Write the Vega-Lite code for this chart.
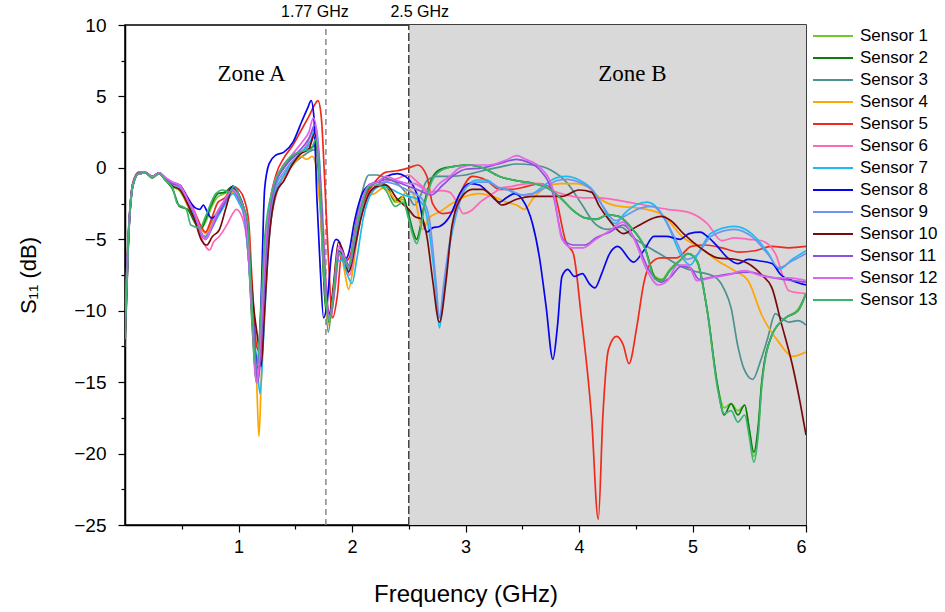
{
"$schema": "https://vega.github.io/schema/vega-lite/v6.json",
"width": 681, "height": 500,
"autosize": {"type": "none"},
"padding": {"left": 125, "top": 25, "right": 139, "bottom": 87},
"background": "white",
"config": {"view": {"stroke": "black", "strokeWidth": 1.5}},
"encoding": {
  "x": {"field": "f", "type": "quantitative", "scale": {"domain": [0, 6], "nice": false},
   "axis": {"values": [0.5, 1, 1.5, 2, 2.5, 3, 3.5, 4, 4.5, 5, 5.5, 6], "labelExpr": "datum.value % 1 == 0 ? format(datum.value, 'd') : ''",
    "tickSize": {"condition": {"test": "datum.value % 1 == 0", "value": 7}, "value": 4},
    "grid": false, "domainColor": "black", "domainWidth": 1.5, "tickColor": "black", "tickWidth": 1.2,
    "labelFont": "Liberation Sans", "labelFontSize": 18, "labelColor": "black", "labelPadding": 6,
    "title": "Frequency (GHz)", "titleFont": "Liberation Sans", "titleFontSize": 24, "titleFontWeight": "normal", "titleColor": "black", "titlePadding": 26}},
  "y": {"field": "v", "type": "quantitative", "scale": {"domain": [-25, 10], "nice": false},
   "axis": {"values": [-25, -22.5, -20, -17.5, -15, -12.5, -10, -7.5, -5, -2.5, 0, 2.5, 5, 7.5, 10], "labelExpr": "datum.value % 5 == 0 ? format(datum.value, 'd') : ''",
    "tickSize": {"condition": {"test": "datum.value % 5 == 0", "value": 7}, "value": 4},
    "grid": false, "domainColor": "black", "domainWidth": 1.5, "tickColor": "black", "tickWidth": 1.2,
    "labelFont": "Liberation Sans", "labelFontSize": 19, "labelColor": "black", "labelPadding": 12,
    "title": "S₁₁ (dB)", "titleFont": "Liberation Sans", "titleFontSize": 22, "titleFontWeight": "normal", "titleColor": "black", "titlePadding": 33}}
},
"layer": [
{"data": {"values": [{"f": 2.5, "b": 6, "v": -25, "w": 10}]}, "mark": {"type": "rect", "color": "#D9D9D9"},
 "encoding": {"x2": {"field": "b"}, "y2": {"field": "w"}}},
{"data": {"values": [{"f": 1.77, "v": -25, "w": 10}]}, "mark": {"type": "rule", "color": "#888888", "strokeDash": [6, 4], "strokeWidth": 1.5},
 "encoding": {"y2": {"field": "w"}}},
{"data": {"values": [{"f": 2.5, "v": -25, "w": 10}]}, "mark": {"type": "rule", "color": "#444444", "strokeDash": [8, 3], "strokeWidth": 1.5},
 "encoding": {"y2": {"field": "w"}}},
{"data": {"values": [
{"s":"Sensor 1","f":0,"v":-11},{"s":"Sensor 1","f":0.03,"v":-5},{"s":"Sensor 1","f":0.07,"v":-1.2},{"s":"Sensor 1","f":0.12,"v":-0.4},{"s":"Sensor 1","f":0.18,"v":-0.35},{"s":"Sensor 1","f":0.24,"v":-0.7},{"s":"Sensor 1","f":0.3,"v":-0.4},{"s":"Sensor 1","f":0.36,"v":-0.9},{"s":"Sensor 1","f":0.42,"v":-1.3},{"s":"Sensor 1","f":0.48,"v":-1.6},{"s":"Sensor 1","f":0.55,"v":-2.6},{"s":"Sensor 1","f":0.62,"v":-3.8},{"s":"Sensor 1","f":0.67,"v":-4.2},{"s":"Sensor 1","f":0.71,"v":-3.8},{"s":"Sensor 1","f":0.76,"v":-2.8},{"s":"Sensor 1","f":0.82,"v":-2},{"s":"Sensor 1","f":0.88,"v":-1.8},{"s":"Sensor 1","f":0.95,"v":-1.4},{"s":"Sensor 1","f":1,"v":-2},{"s":"Sensor 1","f":1.05,"v":-3},{"s":"Sensor 1","f":1.09,"v":-6},{"s":"Sensor 1","f":1.13,"v":-11},{"s":"Sensor 1","f":1.16,"v":-14.5},{"s":"Sensor 1","f":1.2,"v":-10},{"s":"Sensor 1","f":1.25,"v":-4},{"s":"Sensor 1","f":1.32,"v":-1},{"s":"Sensor 1","f":1.4,"v":0},{"s":"Sensor 1","f":1.5,"v":0.9},{"s":"Sensor 1","f":1.58,"v":1.2},{"s":"Sensor 1","f":1.64,"v":1.4},{"s":"Sensor 1","f":1.68,"v":1.5},{"s":"Sensor 1","f":1.72,"v":-2},{"s":"Sensor 1","f":1.76,"v":-9},{"s":"Sensor 1","f":1.79,"v":-10.8},{"s":"Sensor 1","f":1.83,"v":-9},{"s":"Sensor 1","f":1.88,"v":-6},{"s":"Sensor 1","f":1.92,"v":-6.2},{"s":"Sensor 1","f":1.97,"v":-7.3},{"s":"Sensor 1","f":2.02,"v":-5.5},{"s":"Sensor 1","f":2.08,"v":-3},{"s":"Sensor 1","f":2.15,"v":-1.5},{"s":"Sensor 1","f":2.22,"v":-1},{"s":"Sensor 1","f":2.3,"v":-1.2},{"s":"Sensor 1","f":2.38,"v":-2.4},{"s":"Sensor 1","f":2.45,"v":-2.2},{"s":"Sensor 1","f":2.5,"v":-3.5},{"s":"Sensor 1","f":2.54,"v":-4.6},{"s":"Sensor 1","f":2.57,"v":-5},{"s":"Sensor 1","f":2.6,"v":-4.3},{"s":"Sensor 1","f":2.64,"v":-2.5},{"s":"Sensor 1","f":2.7,"v":-0.9},{"s":"Sensor 1","f":2.78,"v":-0.2},{"s":"Sensor 1","f":2.9,"v":0.1},{"s":"Sensor 1","f":3.03,"v":0.2},{"s":"Sensor 1","f":3.15,"v":0},{"s":"Sensor 1","f":3.3,"v":-0.6},{"s":"Sensor 1","f":3.45,"v":-0.9},{"s":"Sensor 1","f":3.6,"v":-1.1},{"s":"Sensor 1","f":3.72,"v":-1.4},{"s":"Sensor 1","f":3.85,"v":-2.2},{"s":"Sensor 1","f":3.95,"v":-3},{"s":"Sensor 1","f":4.05,"v":-3.5},{"s":"Sensor 1","f":4.15,"v":-3.6},{"s":"Sensor 1","f":4.25,"v":-3.3},{"s":"Sensor 1","f":4.35,"v":-3.4},{"s":"Sensor 1","f":4.45,"v":-4.1},{"s":"Sensor 1","f":4.58,"v":-5.6},{"s":"Sensor 1","f":4.67,"v":-7.6},{"s":"Sensor 1","f":4.73,"v":-7.8},{"s":"Sensor 1","f":4.8,"v":-7.1},{"s":"Sensor 1","f":4.9,"v":-6.4},{"s":"Sensor 1","f":4.96,"v":-6},{"s":"Sensor 1","f":5.04,"v":-6.6},{"s":"Sensor 1","f":5.13,"v":-10},{"s":"Sensor 1","f":5.22,"v":-15.2},{"s":"Sensor 1","f":5.28,"v":-16.8},{"s":"Sensor 1","f":5.34,"v":-16.5},{"s":"Sensor 1","f":5.4,"v":-17},{"s":"Sensor 1","f":5.46,"v":-16.6},{"s":"Sensor 1","f":5.5,"v":-18.3},{"s":"Sensor 1","f":5.54,"v":-20.2},{"s":"Sensor 1","f":5.58,"v":-18.3},{"s":"Sensor 1","f":5.61,"v":-15.2},{"s":"Sensor 1","f":5.7,"v":-11.7},{"s":"Sensor 1","f":5.82,"v":-10.5},{"s":"Sensor 1","f":5.93,"v":-9.9},{"s":"Sensor 1","f":6,"v":-8.8},

{"s":"Sensor 2","f":0,"v":-10},{"s":"Sensor 2","f":0.03,"v":-4.5},{"s":"Sensor 2","f":0.07,"v":-1.1},{"s":"Sensor 2","f":0.12,"v":-0.4},{"s":"Sensor 2","f":0.18,"v":-0.35},{"s":"Sensor 2","f":0.24,"v":-0.7},{"s":"Sensor 2","f":0.3,"v":-0.4},{"s":"Sensor 2","f":0.36,"v":-0.9},{"s":"Sensor 2","f":0.42,"v":-1.5},{"s":"Sensor 2","f":0.48,"v":-2.7},{"s":"Sensor 2","f":0.55,"v":-2.9},{"s":"Sensor 2","f":0.62,"v":-3.9},{"s":"Sensor 2","f":0.67,"v":-4.3},{"s":"Sensor 2","f":0.71,"v":-3.6},{"s":"Sensor 2","f":0.76,"v":-2.6},{"s":"Sensor 2","f":0.82,"v":-1.8},{"s":"Sensor 2","f":0.88,"v":-1.7},{"s":"Sensor 2","f":0.95,"v":-1.3},{"s":"Sensor 2","f":1,"v":-2},{"s":"Sensor 2","f":1.05,"v":-3.2},{"s":"Sensor 2","f":1.09,"v":-6.5},{"s":"Sensor 2","f":1.12,"v":-11},{"s":"Sensor 2","f":1.16,"v":-15},{"s":"Sensor 2","f":1.2,"v":-11},{"s":"Sensor 2","f":1.25,"v":-4.5},{"s":"Sensor 2","f":1.32,"v":-1.2},{"s":"Sensor 2","f":1.4,"v":0},{"s":"Sensor 2","f":1.5,"v":0.9},{"s":"Sensor 2","f":1.58,"v":1.2},{"s":"Sensor 2","f":1.64,"v":1.4},{"s":"Sensor 2","f":1.68,"v":1.6},{"s":"Sensor 2","f":1.72,"v":-2.5},{"s":"Sensor 2","f":1.76,"v":-9},{"s":"Sensor 2","f":1.79,"v":-10.8},{"s":"Sensor 2","f":1.83,"v":-9},{"s":"Sensor 2","f":1.88,"v":-5.8},{"s":"Sensor 2","f":1.92,"v":-6.2},{"s":"Sensor 2","f":1.97,"v":-7},{"s":"Sensor 2","f":2.02,"v":-5.2},{"s":"Sensor 2","f":2.08,"v":-3},{"s":"Sensor 2","f":2.15,"v":-1.4},{"s":"Sensor 2","f":2.22,"v":-1},{"s":"Sensor 2","f":2.3,"v":-1.2},{"s":"Sensor 2","f":2.38,"v":-2.3},{"s":"Sensor 2","f":2.45,"v":-2},{"s":"Sensor 2","f":2.5,"v":-3.3},{"s":"Sensor 2","f":2.54,"v":-4.5},{"s":"Sensor 2","f":2.57,"v":-5},{"s":"Sensor 2","f":2.6,"v":-4.2},{"s":"Sensor 2","f":2.64,"v":-2.4},{"s":"Sensor 2","f":2.7,"v":-0.8},{"s":"Sensor 2","f":2.78,"v":-0.1},{"s":"Sensor 2","f":2.9,"v":0.1},{"s":"Sensor 2","f":3.03,"v":0.2},{"s":"Sensor 2","f":3.15,"v":0},{"s":"Sensor 2","f":3.3,"v":-0.6},{"s":"Sensor 2","f":3.45,"v":-0.9},{"s":"Sensor 2","f":3.6,"v":-1.1},{"s":"Sensor 2","f":3.72,"v":-1.4},{"s":"Sensor 2","f":3.85,"v":-2.2},{"s":"Sensor 2","f":3.95,"v":-3},{"s":"Sensor 2","f":4.05,"v":-3.5},{"s":"Sensor 2","f":4.15,"v":-3.6},{"s":"Sensor 2","f":4.25,"v":-3.3},{"s":"Sensor 2","f":4.35,"v":-3.4},{"s":"Sensor 2","f":4.45,"v":-4.1},{"s":"Sensor 2","f":4.58,"v":-5.6},{"s":"Sensor 2","f":4.67,"v":-7.7},{"s":"Sensor 2","f":4.73,"v":-7.9},{"s":"Sensor 2","f":4.8,"v":-7.2},{"s":"Sensor 2","f":4.9,"v":-6.4},{"s":"Sensor 2","f":4.96,"v":-6},{"s":"Sensor 2","f":5.04,"v":-6.5},{"s":"Sensor 2","f":5.13,"v":-10},{"s":"Sensor 2","f":5.22,"v":-15.2},{"s":"Sensor 2","f":5.28,"v":-17.3},{"s":"Sensor 2","f":5.34,"v":-16.5},{"s":"Sensor 2","f":5.4,"v":-17.3},{"s":"Sensor 2","f":5.46,"v":-16.6},{"s":"Sensor 2","f":5.5,"v":-18.3},{"s":"Sensor 2","f":5.54,"v":-19.9},{"s":"Sensor 2","f":5.58,"v":-18},{"s":"Sensor 2","f":5.61,"v":-15},{"s":"Sensor 2","f":5.7,"v":-11.7},{"s":"Sensor 2","f":5.82,"v":-10.5},{"s":"Sensor 2","f":5.93,"v":-10},{"s":"Sensor 2","f":6,"v":-8.8},

{"s":"Sensor 3","f":0,"v":-11.5},{"s":"Sensor 3","f":0.03,"v":-5},{"s":"Sensor 3","f":0.07,"v":-1.2},{"s":"Sensor 3","f":0.12,"v":-0.4},{"s":"Sensor 3","f":0.18,"v":-0.35},{"s":"Sensor 3","f":0.24,"v":-0.65},{"s":"Sensor 3","f":0.3,"v":-0.4},{"s":"Sensor 3","f":0.36,"v":-0.9},{"s":"Sensor 3","f":0.42,"v":-1.2},{"s":"Sensor 3","f":0.48,"v":-1.4},{"s":"Sensor 3","f":0.55,"v":-2.4},{"s":"Sensor 3","f":0.62,"v":-3.8},{"s":"Sensor 3","f":0.67,"v":-4.6},{"s":"Sensor 3","f":0.71,"v":-4.8},{"s":"Sensor 3","f":0.76,"v":-3.8},{"s":"Sensor 3","f":0.82,"v":-3},{"s":"Sensor 3","f":0.88,"v":-2.4},{"s":"Sensor 3","f":0.95,"v":-1.6},{"s":"Sensor 3","f":1,"v":-2.2},{"s":"Sensor 3","f":1.05,"v":-3.2},{"s":"Sensor 3","f":1.09,"v":-6.5},{"s":"Sensor 3","f":1.13,"v":-11.5},{"s":"Sensor 3","f":1.16,"v":-14},{"s":"Sensor 3","f":1.2,"v":-11},{"s":"Sensor 3","f":1.25,"v":-5},{"s":"Sensor 3","f":1.32,"v":-1.8},{"s":"Sensor 3","f":1.4,"v":-0.6},{"s":"Sensor 3","f":1.5,"v":0.4},{"s":"Sensor 3","f":1.58,"v":0.9},{"s":"Sensor 3","f":1.64,"v":1.2},{"s":"Sensor 3","f":1.68,"v":1.3},{"s":"Sensor 3","f":1.72,"v":-1.5},{"s":"Sensor 3","f":1.76,"v":-8},{"s":"Sensor 3","f":1.79,"v":-11.5},{"s":"Sensor 3","f":1.83,"v":-9},{"s":"Sensor 3","f":1.88,"v":-6},{"s":"Sensor 3","f":1.92,"v":-6.5},{"s":"Sensor 3","f":1.97,"v":-6.8},{"s":"Sensor 3","f":2.02,"v":-4.5},{"s":"Sensor 3","f":2.08,"v":-2},{"s":"Sensor 3","f":2.15,"v":-0.5},{"s":"Sensor 3","f":2.22,"v":-0.5},{"s":"Sensor 3","f":2.3,"v":-0.7},{"s":"Sensor 3","f":2.4,"v":-1.1},{"s":"Sensor 3","f":2.5,"v":-2},{"s":"Sensor 3","f":2.55,"v":-2.6},{"s":"Sensor 3","f":2.6,"v":-2},{"s":"Sensor 3","f":2.66,"v":-0.9},{"s":"Sensor 3","f":2.75,"v":-0.6},{"s":"Sensor 3","f":2.85,"v":-0.6},{"s":"Sensor 3","f":3,"v":-0.5},{"s":"Sensor 3","f":3.15,"v":-0.2},{"s":"Sensor 3","f":3.3,"v":0.05},{"s":"Sensor 3","f":3.45,"v":0.27},{"s":"Sensor 3","f":3.6,"v":0.2},{"s":"Sensor 3","f":3.75,"v":-0.15},{"s":"Sensor 3","f":3.9,"v":-1.1},{"s":"Sensor 3","f":4.02,"v":-2.5},{"s":"Sensor 3","f":4.14,"v":-3.9},{"s":"Sensor 3","f":4.25,"v":-4.3},{"s":"Sensor 3","f":4.37,"v":-4.15},{"s":"Sensor 3","f":4.48,"v":-4.9},{"s":"Sensor 3","f":4.6,"v":-5.5},{"s":"Sensor 3","f":4.75,"v":-6.2},{"s":"Sensor 3","f":4.9,"v":-6.9},{"s":"Sensor 3","f":5,"v":-7.2},{"s":"Sensor 3","f":5.19,"v":-7.6},{"s":"Sensor 3","f":5.28,"v":-8.5},{"s":"Sensor 3","f":5.34,"v":-9.8},{"s":"Sensor 3","f":5.4,"v":-12.5},{"s":"Sensor 3","f":5.45,"v":-14},{"s":"Sensor 3","f":5.53,"v":-14.8},{"s":"Sensor 3","f":5.6,"v":-13.5},{"s":"Sensor 3","f":5.66,"v":-12},{"s":"Sensor 3","f":5.73,"v":-10.2},{"s":"Sensor 3","f":5.78,"v":-10.5},{"s":"Sensor 3","f":5.85,"v":-10.8},{"s":"Sensor 3","f":5.93,"v":-10.7},{"s":"Sensor 3","f":6,"v":-11},

{"s":"Sensor 4","f":0,"v":-12},{"s":"Sensor 4","f":0.03,"v":-5},{"s":"Sensor 4","f":0.07,"v":-1.2},{"s":"Sensor 4","f":0.12,"v":-0.4},{"s":"Sensor 4","f":0.18,"v":-0.35},{"s":"Sensor 4","f":0.24,"v":-0.65},{"s":"Sensor 4","f":0.3,"v":-0.35},{"s":"Sensor 4","f":0.36,"v":-0.8},{"s":"Sensor 4","f":0.42,"v":-1.3},{"s":"Sensor 4","f":0.48,"v":-1.4},{"s":"Sensor 4","f":0.55,"v":-2.6},{"s":"Sensor 4","f":0.62,"v":-3.5},{"s":"Sensor 4","f":0.67,"v":-4.3},{"s":"Sensor 4","f":0.71,"v":-4.6},{"s":"Sensor 4","f":0.76,"v":-4},{"s":"Sensor 4","f":0.82,"v":-3},{"s":"Sensor 4","f":0.88,"v":-2.4},{"s":"Sensor 4","f":0.95,"v":-1.7},{"s":"Sensor 4","f":1,"v":-2.3},{"s":"Sensor 4","f":1.05,"v":-3.3},{"s":"Sensor 4","f":1.09,"v":-6.5},{"s":"Sensor 4","f":1.13,"v":-11},{"s":"Sensor 4","f":1.16,"v":-15},{"s":"Sensor 4","f":1.18,"v":-18.8},{"s":"Sensor 4","f":1.2,"v":-15},{"s":"Sensor 4","f":1.23,"v":-9},{"s":"Sensor 4","f":1.27,"v":-4.5},{"s":"Sensor 4","f":1.33,"v":-1.8},{"s":"Sensor 4","f":1.4,"v":-0.6},{"s":"Sensor 4","f":1.5,"v":0.4},{"s":"Sensor 4","f":1.55,"v":0.8},{"s":"Sensor 4","f":1.6,"v":0.6},{"s":"Sensor 4","f":1.65,"v":0.8},{"s":"Sensor 4","f":1.68,"v":0.3},{"s":"Sensor 4","f":1.72,"v":-3},{"s":"Sensor 4","f":1.76,"v":-8},{"s":"Sensor 4","f":1.79,"v":-11},{"s":"Sensor 4","f":1.82,"v":-10},{"s":"Sensor 4","f":1.86,"v":-6.5},{"s":"Sensor 4","f":1.9,"v":-6},{"s":"Sensor 4","f":1.94,"v":-7.5},{"s":"Sensor 4","f":1.97,"v":-8.5},{"s":"Sensor 4","f":2.01,"v":-7},{"s":"Sensor 4","f":2.06,"v":-4},{"s":"Sensor 4","f":2.12,"v":-2},{"s":"Sensor 4","f":2.2,"v":-1.8},{"s":"Sensor 4","f":2.28,"v":-1.4},{"s":"Sensor 4","f":2.34,"v":-1.8},{"s":"Sensor 4","f":2.4,"v":-2.4},{"s":"Sensor 4","f":2.5,"v":-1.5},{"s":"Sensor 4","f":2.55,"v":-2},{"s":"Sensor 4","f":2.62,"v":-4.3},{"s":"Sensor 4","f":2.68,"v":-3.5},{"s":"Sensor 4","f":2.77,"v":-3.1},{"s":"Sensor 4","f":2.88,"v":-2.5},{"s":"Sensor 4","f":3,"v":-2},{"s":"Sensor 4","f":3.12,"v":-1.8},{"s":"Sensor 4","f":3.24,"v":-2},{"s":"Sensor 4","f":3.36,"v":-2.4},{"s":"Sensor 4","f":3.45,"v":-2.6},{"s":"Sensor 4","f":3.52,"v":-2.9},{"s":"Sensor 4","f":3.6,"v":-2.1},{"s":"Sensor 4","f":3.72,"v":-1.3},{"s":"Sensor 4","f":3.83,"v":-1.1},{"s":"Sensor 4","f":3.97,"v":-1.1},{"s":"Sensor 4","f":4.09,"v":-1.4},{"s":"Sensor 4","f":4.2,"v":-2.25},{"s":"Sensor 4","f":4.36,"v":-2.7},{"s":"Sensor 4","f":4.51,"v":-2.8},{"s":"Sensor 4","f":4.72,"v":-3.2},{"s":"Sensor 4","f":4.92,"v":-4.9},{"s":"Sensor 4","f":5.07,"v":-5.6},{"s":"Sensor 4","f":5.22,"v":-6.5},{"s":"Sensor 4","f":5.37,"v":-7.2},{"s":"Sensor 4","f":5.49,"v":-7.9},{"s":"Sensor 4","f":5.61,"v":-10.3},{"s":"Sensor 4","f":5.76,"v":-12.2},{"s":"Sensor 4","f":5.88,"v":-13.2},{"s":"Sensor 4","f":6,"v":-12.9},

{"s":"Sensor 5","f":0,"v":-11},{"s":"Sensor 5","f":0.03,"v":-4.8},{"s":"Sensor 5","f":0.07,"v":-1},{"s":"Sensor 5","f":0.12,"v":-0.3},{"s":"Sensor 5","f":0.18,"v":-0.3},{"s":"Sensor 5","f":0.24,"v":-0.6},{"s":"Sensor 5","f":0.3,"v":-0.35},{"s":"Sensor 5","f":0.36,"v":-0.8},{"s":"Sensor 5","f":0.42,"v":-1.1},{"s":"Sensor 5","f":0.48,"v":-1.2},{"s":"Sensor 5","f":0.55,"v":-2.2},{"s":"Sensor 5","f":0.62,"v":-3.2},{"s":"Sensor 5","f":0.67,"v":-4.1},{"s":"Sensor 5","f":0.71,"v":-4.5},{"s":"Sensor 5","f":0.76,"v":-3.6},{"s":"Sensor 5","f":0.82,"v":-2.4},{"s":"Sensor 5","f":0.88,"v":-2.1},{"s":"Sensor 5","f":0.95,"v":-1.3},{"s":"Sensor 5","f":1,"v":-1.5},{"s":"Sensor 5","f":1.05,"v":-2.2},{"s":"Sensor 5","f":1.09,"v":-3.8},{"s":"Sensor 5","f":1.12,"v":-8},{"s":"Sensor 5","f":1.16,"v":-12.5},{"s":"Sensor 5","f":1.2,"v":-13},{"s":"Sensor 5","f":1.23,"v":-9},{"s":"Sensor 5","f":1.27,"v":-3},{"s":"Sensor 5","f":1.33,"v":-0.5},{"s":"Sensor 5","f":1.4,"v":0.7},{"s":"Sensor 5","f":1.48,"v":1.6},{"s":"Sensor 5","f":1.55,"v":2.6},{"s":"Sensor 5","f":1.62,"v":3.6},{"s":"Sensor 5","f":1.67,"v":4.4},{"s":"Sensor 5","f":1.7,"v":4.7},{"s":"Sensor 5","f":1.73,"v":3.5},{"s":"Sensor 5","f":1.76,"v":-1},{"s":"Sensor 5","f":1.79,"v":-6},{"s":"Sensor 5","f":1.83,"v":-10.5},{"s":"Sensor 5","f":1.87,"v":-9},{"s":"Sensor 5","f":1.91,"v":-6},{"s":"Sensor 5","f":1.95,"v":-6.5},{"s":"Sensor 5","f":1.99,"v":-6},{"s":"Sensor 5","f":2.05,"v":-3.5},{"s":"Sensor 5","f":2.12,"v":-2},{"s":"Sensor 5","f":2.2,"v":-1},{"s":"Sensor 5","f":2.3,"v":-0.3},{"s":"Sensor 5","f":2.4,"v":-0.2},{"s":"Sensor 5","f":2.5,"v":0},{"s":"Sensor 5","f":2.58,"v":0.2},{"s":"Sensor 5","f":2.66,"v":-0.6},{"s":"Sensor 5","f":2.71,"v":-2.5},{"s":"Sensor 5","f":2.8,"v":-3.2},{"s":"Sensor 5","f":2.88,"v":-3.1},{"s":"Sensor 5","f":2.95,"v":-1.8},{"s":"Sensor 5","f":3.06,"v":-0.6},{"s":"Sensor 5","f":3.18,"v":-0.85},{"s":"Sensor 5","f":3.3,"v":-1.5},{"s":"Sensor 5","f":3.41,"v":-1.5},{"s":"Sensor 5","f":3.54,"v":-1.3},{"s":"Sensor 5","f":3.65,"v":-1.1},{"s":"Sensor 5","f":3.77,"v":-1.55},{"s":"Sensor 5","f":3.89,"v":-5.3},{"s":"Sensor 5","f":3.95,"v":-6},{"s":"Sensor 5","f":4.02,"v":-10.4},{"s":"Sensor 5","f":4.11,"v":-17.4},{"s":"Sensor 5","f":4.17,"v":-24.6},{"s":"Sensor 5","f":4.21,"v":-17.4},{"s":"Sensor 5","f":4.26,"v":-12.7},{"s":"Sensor 5","f":4.33,"v":-11.8},{"s":"Sensor 5","f":4.39,"v":-12.4},{"s":"Sensor 5","f":4.44,"v":-13.7},{"s":"Sensor 5","f":4.51,"v":-11.1},{"s":"Sensor 5","f":4.57,"v":-8.1},{"s":"Sensor 5","f":4.63,"v":-6.7},{"s":"Sensor 5","f":4.72,"v":-6.3},{"s":"Sensor 5","f":4.86,"v":-6.3},{"s":"Sensor 5","f":4.99,"v":-5.5},{"s":"Sensor 5","f":5.11,"v":-5.4},{"s":"Sensor 5","f":5.26,"v":-5.6},{"s":"Sensor 5","f":5.41,"v":-5.9},{"s":"Sensor 5","f":5.55,"v":-5.8},{"s":"Sensor 5","f":5.7,"v":-5.5},{"s":"Sensor 5","f":5.85,"v":-5.6},{"s":"Sensor 5","f":6,"v":-5.5},

{"s":"Sensor 6","f":0,"v":-10.5},{"s":"Sensor 6","f":0.03,"v":-4.6},{"s":"Sensor 6","f":0.07,"v":-1.1},{"s":"Sensor 6","f":0.12,"v":-0.4},{"s":"Sensor 6","f":0.18,"v":-0.35},{"s":"Sensor 6","f":0.24,"v":-0.65},{"s":"Sensor 6","f":0.3,"v":-0.35},{"s":"Sensor 6","f":0.36,"v":-0.7},{"s":"Sensor 6","f":0.42,"v":-1},{"s":"Sensor 6","f":0.48,"v":-1.2},{"s":"Sensor 6","f":0.55,"v":-2},{"s":"Sensor 6","f":0.62,"v":-3.2},{"s":"Sensor 6","f":0.67,"v":-4.8},{"s":"Sensor 6","f":0.71,"v":-5.5},{"s":"Sensor 6","f":0.745,"v":-5.75},{"s":"Sensor 6","f":0.78,"v":-5.2},{"s":"Sensor 6","f":0.83,"v":-4.8},{"s":"Sensor 6","f":0.89,"v":-4.1},{"s":"Sensor 6","f":0.95,"v":-3.2},{"s":"Sensor 6","f":0.98,"v":-2.9},{"s":"Sensor 6","f":1.03,"v":-3.4},{"s":"Sensor 6","f":1.08,"v":-5.5},{"s":"Sensor 6","f":1.12,"v":-10},{"s":"Sensor 6","f":1.16,"v":-15},{"s":"Sensor 6","f":1.19,"v":-13},{"s":"Sensor 6","f":1.23,"v":-8},{"s":"Sensor 6","f":1.28,"v":-4},{"s":"Sensor 6","f":1.36,"v":-1.2},{"s":"Sensor 6","f":1.45,"v":0},{"s":"Sensor 6","f":1.52,"v":0.8},{"s":"Sensor 6","f":1.6,"v":1.6},{"s":"Sensor 6","f":1.66,"v":2.7},{"s":"Sensor 6","f":1.7,"v":1.5},{"s":"Sensor 6","f":1.74,"v":-3},{"s":"Sensor 6","f":1.78,"v":-9},{"s":"Sensor 6","f":1.81,"v":-10.5},{"s":"Sensor 6","f":1.85,"v":-8.5},{"s":"Sensor 6","f":1.89,"v":-6},{"s":"Sensor 6","f":1.93,"v":-6.5},{"s":"Sensor 6","f":1.98,"v":-7.5},{"s":"Sensor 6","f":2.03,"v":-5.5},{"s":"Sensor 6","f":2.1,"v":-2.8},{"s":"Sensor 6","f":2.18,"v":-1.5},{"s":"Sensor 6","f":2.28,"v":-1},{"s":"Sensor 6","f":2.38,"v":-0.8},{"s":"Sensor 6","f":2.45,"v":-0.6},{"s":"Sensor 6","f":2.5,"v":-0.5},{"s":"Sensor 6","f":2.55,"v":-0.8},{"s":"Sensor 6","f":2.62,"v":-1.3},{"s":"Sensor 6","f":2.7,"v":-1.7},{"s":"Sensor 6","f":2.78,"v":-1.6},{"s":"Sensor 6","f":2.86,"v":-1.7},{"s":"Sensor 6","f":2.93,"v":-2.5},{"s":"Sensor 6","f":2.98,"v":-3.2},{"s":"Sensor 6","f":3.05,"v":-3},{"s":"Sensor 6","f":3.13,"v":-2.4},{"s":"Sensor 6","f":3.24,"v":-1.8},{"s":"Sensor 6","f":3.32,"v":-1.4},{"s":"Sensor 6","f":3.41,"v":-1.3},{"s":"Sensor 6","f":3.54,"v":-1.1},{"s":"Sensor 6","f":3.65,"v":-1.1},{"s":"Sensor 6","f":3.77,"v":-1.6},{"s":"Sensor 6","f":3.89,"v":-1.9},{"s":"Sensor 6","f":4.03,"v":-2.1},{"s":"Sensor 6","f":4.18,"v":-2.1},{"s":"Sensor 6","f":4.36,"v":-2.3},{"s":"Sensor 6","f":4.57,"v":-2.6},{"s":"Sensor 6","f":4.78,"v":-2.9},{"s":"Sensor 6","f":4.96,"v":-3.1},{"s":"Sensor 6","f":5.13,"v":-3.9},{"s":"Sensor 6","f":5.26,"v":-5.1},{"s":"Sensor 6","f":5.37,"v":-4.9},{"s":"Sensor 6","f":5.49,"v":-5},{"s":"Sensor 6","f":5.61,"v":-5.1},{"s":"Sensor 6","f":5.73,"v":-6},{"s":"Sensor 6","f":5.85,"v":-8.6},{"s":"Sensor 6","f":6,"v":-8.8},

{"s":"Sensor 7","f":0,"v":-12.5},{"s":"Sensor 7","f":0.03,"v":-5.2},{"s":"Sensor 7","f":0.07,"v":-1.3},{"s":"Sensor 7","f":0.12,"v":-0.4},{"s":"Sensor 7","f":0.18,"v":-0.35},{"s":"Sensor 7","f":0.24,"v":-0.65},{"s":"Sensor 7","f":0.3,"v":-0.35},{"s":"Sensor 7","f":0.36,"v":-0.8},{"s":"Sensor 7","f":0.42,"v":-1.2},{"s":"Sensor 7","f":0.48,"v":-1.3},{"s":"Sensor 7","f":0.55,"v":-2.4},{"s":"Sensor 7","f":0.62,"v":-3.6},{"s":"Sensor 7","f":0.67,"v":-4.6},{"s":"Sensor 7","f":0.71,"v":-5},{"s":"Sensor 7","f":0.76,"v":-4.3},{"s":"Sensor 7","f":0.82,"v":-3.4},{"s":"Sensor 7","f":0.88,"v":-2.6},{"s":"Sensor 7","f":0.95,"v":-1.8},{"s":"Sensor 7","f":1,"v":-2.4},{"s":"Sensor 7","f":1.05,"v":-3.4},{"s":"Sensor 7","f":1.09,"v":-6.5},{"s":"Sensor 7","f":1.13,"v":-11},{"s":"Sensor 7","f":1.17,"v":-14.5},{"s":"Sensor 7","f":1.19,"v":-15.8},{"s":"Sensor 7","f":1.22,"v":-12},{"s":"Sensor 7","f":1.26,"v":-6},{"s":"Sensor 7","f":1.32,"v":-2},{"s":"Sensor 7","f":1.4,"v":-0.5},{"s":"Sensor 7","f":1.5,"v":0.6},{"s":"Sensor 7","f":1.58,"v":1.3},{"s":"Sensor 7","f":1.64,"v":2},{"s":"Sensor 7","f":1.68,"v":2.9},{"s":"Sensor 7","f":1.71,"v":1},{"s":"Sensor 7","f":1.75,"v":-6},{"s":"Sensor 7","f":1.79,"v":-10.5},{"s":"Sensor 7","f":1.83,"v":-9.5},{"s":"Sensor 7","f":1.87,"v":-6.5},{"s":"Sensor 7","f":1.91,"v":-6.5},{"s":"Sensor 7","f":1.96,"v":-7.5},{"s":"Sensor 7","f":2,"v":-8.1},{"s":"Sensor 7","f":2.04,"v":-6.5},{"s":"Sensor 7","f":2.1,"v":-3.5},{"s":"Sensor 7","f":2.17,"v":-1.8},{"s":"Sensor 7","f":2.25,"v":-1.3},{"s":"Sensor 7","f":2.35,"v":-1.5},{"s":"Sensor 7","f":2.42,"v":-1.8},{"s":"Sensor 7","f":2.5,"v":-2},{"s":"Sensor 7","f":2.58,"v":-2.2},{"s":"Sensor 7","f":2.64,"v":-2.8},{"s":"Sensor 7","f":2.69,"v":-5},{"s":"Sensor 7","f":2.74,"v":-8.6},{"s":"Sensor 7","f":2.77,"v":-11.2},{"s":"Sensor 7","f":2.81,"v":-8.6},{"s":"Sensor 7","f":2.86,"v":-5.5},{"s":"Sensor 7","f":2.92,"v":-3.2},{"s":"Sensor 7","f":3.01,"v":-1.3},{"s":"Sensor 7","f":3.1,"v":-0.85},{"s":"Sensor 7","f":3.19,"v":-0.85},{"s":"Sensor 7","f":3.27,"v":-1.3},{"s":"Sensor 7","f":3.36,"v":-1.5},{"s":"Sensor 7","f":3.48,"v":-1.9},{"s":"Sensor 7","f":3.59,"v":-1.8},{"s":"Sensor 7","f":3.68,"v":-1.3},{"s":"Sensor 7","f":3.8,"v":-0.7},{"s":"Sensor 7","f":3.89,"v":-0.6},{"s":"Sensor 7","f":4,"v":-0.85},{"s":"Sensor 7","f":4.12,"v":-1.55},{"s":"Sensor 7","f":4.21,"v":-2.7},{"s":"Sensor 7","f":4.27,"v":-3.6},{"s":"Sensor 7","f":4.32,"v":-3.9},{"s":"Sensor 7","f":4.4,"v":-3.2},{"s":"Sensor 7","f":4.5,"v":-2.6},{"s":"Sensor 7","f":4.6,"v":-2.4},{"s":"Sensor 7","f":4.7,"v":-2.9},{"s":"Sensor 7","f":4.8,"v":-4.3},{"s":"Sensor 7","f":4.89,"v":-6},{"s":"Sensor 7","f":4.98,"v":-6.8},{"s":"Sensor 7","f":5.05,"v":-6},{"s":"Sensor 7","f":5.16,"v":-4.6},{"s":"Sensor 7","f":5.37,"v":-4.1},{"s":"Sensor 7","f":5.52,"v":-4.6},{"s":"Sensor 7","f":5.67,"v":-6},{"s":"Sensor 7","f":5.76,"v":-7.1},{"s":"Sensor 7","f":5.88,"v":-6.4},{"s":"Sensor 7","f":6,"v":-5.8},

{"s":"Sensor 8","f":0,"v":-11},{"s":"Sensor 8","f":0.03,"v":-4.8},{"s":"Sensor 8","f":0.07,"v":-1.1},{"s":"Sensor 8","f":0.12,"v":-0.4},{"s":"Sensor 8","f":0.18,"v":-0.35},{"s":"Sensor 8","f":0.24,"v":-0.6},{"s":"Sensor 8","f":0.3,"v":-0.35},{"s":"Sensor 8","f":0.36,"v":-0.8},{"s":"Sensor 8","f":0.42,"v":-1.1},{"s":"Sensor 8","f":0.48,"v":-1.2},{"s":"Sensor 8","f":0.55,"v":-2.1},{"s":"Sensor 8","f":0.62,"v":-2.8},{"s":"Sensor 8","f":0.66,"v":-2.9},{"s":"Sensor 8","f":0.69,"v":-2.6},{"s":"Sensor 8","f":0.72,"v":-3},{"s":"Sensor 8","f":0.76,"v":-3.5},{"s":"Sensor 8","f":0.83,"v":-3.1},{"s":"Sensor 8","f":0.89,"v":-2.2},{"s":"Sensor 8","f":0.95,"v":-1.3},{"s":"Sensor 8","f":1,"v":-1.8},{"s":"Sensor 8","f":1.05,"v":-2.9},{"s":"Sensor 8","f":1.08,"v":-4.1},{"s":"Sensor 8","f":1.11,"v":-8},{"s":"Sensor 8","f":1.14,"v":-12},{"s":"Sensor 8","f":1.17,"v":-14},{"s":"Sensor 8","f":1.2,"v":-9},{"s":"Sensor 8","f":1.23,"v":-1.5},{"s":"Sensor 8","f":1.27,"v":0.3},{"s":"Sensor 8","f":1.33,"v":0.9},{"s":"Sensor 8","f":1.4,"v":1.1},{"s":"Sensor 8","f":1.48,"v":1.8},{"s":"Sensor 8","f":1.56,"v":3.3},{"s":"Sensor 8","f":1.61,"v":4.2},{"s":"Sensor 8","f":1.64,"v":4.7},{"s":"Sensor 8","f":1.665,"v":3.5},{"s":"Sensor 8","f":1.69,"v":-2},{"s":"Sensor 8","f":1.72,"v":-7},{"s":"Sensor 8","f":1.75,"v":-10.5},{"s":"Sensor 8","f":1.78,"v":-9.5},{"s":"Sensor 8","f":1.82,"v":-6},{"s":"Sensor 8","f":1.86,"v":-5},{"s":"Sensor 8","f":1.89,"v":-5.2},{"s":"Sensor 8","f":1.93,"v":-6.5},{"s":"Sensor 8","f":1.97,"v":-6},{"s":"Sensor 8","f":2.02,"v":-3.8},{"s":"Sensor 8","f":2.08,"v":-2},{"s":"Sensor 8","f":2.15,"v":-1.2},{"s":"Sensor 8","f":2.22,"v":-1},{"s":"Sensor 8","f":2.3,"v":-0.6},{"s":"Sensor 8","f":2.4,"v":-0.4},{"s":"Sensor 8","f":2.47,"v":-0.6},{"s":"Sensor 8","f":2.52,"v":-1},{"s":"Sensor 8","f":2.58,"v":-2},{"s":"Sensor 8","f":2.66,"v":-4.5},{"s":"Sensor 8","f":2.71,"v":-4.2},{"s":"Sensor 8","f":2.77,"v":-4.1},{"s":"Sensor 8","f":2.86,"v":-3.4},{"s":"Sensor 8","f":2.95,"v":-1.8},{"s":"Sensor 8","f":3.03,"v":-1.1},{"s":"Sensor 8","f":3.12,"v":-1.2},{"s":"Sensor 8","f":3.21,"v":-1.8},{"s":"Sensor 8","f":3.3,"v":-2.4},{"s":"Sensor 8","f":3.36,"v":-2.1},{"s":"Sensor 8","f":3.43,"v":-1.8},{"s":"Sensor 8","f":3.5,"v":-2.2},{"s":"Sensor 8","f":3.59,"v":-3.9},{"s":"Sensor 8","f":3.65,"v":-6.2},{"s":"Sensor 8","f":3.71,"v":-9.7},{"s":"Sensor 8","f":3.77,"v":-13.4},{"s":"Sensor 8","f":3.81,"v":-11.1},{"s":"Sensor 8","f":3.85,"v":-7.6},{"s":"Sensor 8","f":3.9,"v":-7.1},{"s":"Sensor 8","f":3.96,"v":-7.6},{"s":"Sensor 8","f":4.03,"v":-7.4},{"s":"Sensor 8","f":4.09,"v":-8.1},{"s":"Sensor 8","f":4.14,"v":-8.4},{"s":"Sensor 8","f":4.2,"v":-7.4},{"s":"Sensor 8","f":4.27,"v":-6},{"s":"Sensor 8","f":4.34,"v":-5.5},{"s":"Sensor 8","f":4.48,"v":-6.6},{"s":"Sensor 8","f":4.57,"v":-5.8},{"s":"Sensor 8","f":4.66,"v":-4.8},{"s":"Sensor 8","f":4.77,"v":-4.8},{"s":"Sensor 8","f":4.89,"v":-5},{"s":"Sensor 8","f":4.97,"v":-4.6},{"s":"Sensor 8","f":5.07,"v":-4.5},{"s":"Sensor 8","f":5.13,"v":-4.8},{"s":"Sensor 8","f":5.22,"v":-5.5},{"s":"Sensor 8","f":5.31,"v":-6.3},{"s":"Sensor 8","f":5.4,"v":-6.7},{"s":"Sensor 8","f":5.49,"v":-6.4},{"s":"Sensor 8","f":5.58,"v":-6.5},{"s":"Sensor 8","f":5.7,"v":-6.7},{"s":"Sensor 8","f":5.78,"v":-7.5},{"s":"Sensor 8","f":5.88,"v":-7.9},{"s":"Sensor 8","f":6,"v":-8.2},

{"s":"Sensor 9","f":0,"v":-12},{"s":"Sensor 9","f":0.03,"v":-5},{"s":"Sensor 9","f":0.07,"v":-1.2},{"s":"Sensor 9","f":0.12,"v":-0.4},{"s":"Sensor 9","f":0.18,"v":-0.35},{"s":"Sensor 9","f":0.24,"v":-0.65},{"s":"Sensor 9","f":0.3,"v":-0.35},{"s":"Sensor 9","f":0.36,"v":-0.8},{"s":"Sensor 9","f":0.42,"v":-1.2},{"s":"Sensor 9","f":0.48,"v":-1.3},{"s":"Sensor 9","f":0.55,"v":-2.3},{"s":"Sensor 9","f":0.62,"v":-3.4},{"s":"Sensor 9","f":0.67,"v":-4.5},{"s":"Sensor 9","f":0.71,"v":-4.9},{"s":"Sensor 9","f":0.76,"v":-4.2},{"s":"Sensor 9","f":0.82,"v":-3.2},{"s":"Sensor 9","f":0.88,"v":-2.4},{"s":"Sensor 9","f":0.95,"v":-1.6},{"s":"Sensor 9","f":1,"v":-2.2},{"s":"Sensor 9","f":1.05,"v":-3.2},{"s":"Sensor 9","f":1.09,"v":-6.5},{"s":"Sensor 9","f":1.13,"v":-11},{"s":"Sensor 9","f":1.17,"v":-14.8},{"s":"Sensor 9","f":1.21,"v":-11},{"s":"Sensor 9","f":1.25,"v":-5},{"s":"Sensor 9","f":1.32,"v":-1.5},{"s":"Sensor 9","f":1.4,"v":-0.3},{"s":"Sensor 9","f":1.5,"v":0.7},{"s":"Sensor 9","f":1.58,"v":1.2},{"s":"Sensor 9","f":1.64,"v":1.8},{"s":"Sensor 9","f":1.68,"v":2.4},{"s":"Sensor 9","f":1.72,"v":-1},{"s":"Sensor 9","f":1.76,"v":-8},{"s":"Sensor 9","f":1.8,"v":-10.5},{"s":"Sensor 9","f":1.84,"v":-8.5},{"s":"Sensor 9","f":1.88,"v":-6},{"s":"Sensor 9","f":1.92,"v":-6.3},{"s":"Sensor 9","f":1.97,"v":-7.2},{"s":"Sensor 9","f":2.02,"v":-5.5},{"s":"Sensor 9","f":2.08,"v":-3.2},{"s":"Sensor 9","f":2.15,"v":-1.8},{"s":"Sensor 9","f":2.22,"v":-1.2},{"s":"Sensor 9","f":2.3,"v":-1},{"s":"Sensor 9","f":2.4,"v":-1.2},{"s":"Sensor 9","f":2.5,"v":-1.6},{"s":"Sensor 9","f":2.55,"v":-1.8},{"s":"Sensor 9","f":2.62,"v":-2.2},{"s":"Sensor 9","f":2.68,"v":-3.5},{"s":"Sensor 9","f":2.74,"v":-8},{"s":"Sensor 9","f":2.77,"v":-10.5},{"s":"Sensor 9","f":2.81,"v":-8},{"s":"Sensor 9","f":2.86,"v":-5.2},{"s":"Sensor 9","f":2.92,"v":-3},{"s":"Sensor 9","f":3,"v":-1.4},{"s":"Sensor 9","f":3.1,"v":-1},{"s":"Sensor 9","f":3.2,"v":-1},{"s":"Sensor 9","f":3.3,"v":-1.4},{"s":"Sensor 9","f":3.4,"v":-1.6},{"s":"Sensor 9","f":3.5,"v":-1.9},{"s":"Sensor 9","f":3.6,"v":-1.8},{"s":"Sensor 9","f":3.7,"v":-1.4},{"s":"Sensor 9","f":3.8,"v":-0.9},{"s":"Sensor 9","f":3.9,"v":-0.8},{"s":"Sensor 9","f":4,"v":-1},{"s":"Sensor 9","f":4.12,"v":-1.6},{"s":"Sensor 9","f":4.22,"v":-2.8},{"s":"Sensor 9","f":4.32,"v":-3.7},{"s":"Sensor 9","f":4.42,"v":-3.3},{"s":"Sensor 9","f":4.55,"v":-2.8},{"s":"Sensor 9","f":4.65,"v":-2.7},{"s":"Sensor 9","f":4.75,"v":-3.5},{"s":"Sensor 9","f":4.85,"v":-5},{"s":"Sensor 9","f":4.95,"v":-6.4},{"s":"Sensor 9","f":5.05,"v":-6},{"s":"Sensor 9","f":5.16,"v":-4.8},{"s":"Sensor 9","f":5.37,"v":-4.3},{"s":"Sensor 9","f":5.52,"v":-4.8},{"s":"Sensor 9","f":5.67,"v":-6.1},{"s":"Sensor 9","f":5.76,"v":-7},{"s":"Sensor 9","f":5.88,"v":-6.5},{"s":"Sensor 9","f":6,"v":-6},

{"s":"Sensor 10","f":0,"v":-12.5},{"s":"Sensor 10","f":0.03,"v":-5.2},{"s":"Sensor 10","f":0.07,"v":-1.2},{"s":"Sensor 10","f":0.12,"v":-0.4},{"s":"Sensor 10","f":0.18,"v":-0.35},{"s":"Sensor 10","f":0.24,"v":-0.65},{"s":"Sensor 10","f":0.3,"v":-0.35},{"s":"Sensor 10","f":0.36,"v":-0.8},{"s":"Sensor 10","f":0.42,"v":-1.3},{"s":"Sensor 10","f":0.48,"v":-1.5},{"s":"Sensor 10","f":0.55,"v":-2.5},{"s":"Sensor 10","f":0.62,"v":-3.8},{"s":"Sensor 10","f":0.67,"v":-5},{"s":"Sensor 10","f":0.72,"v":-5.4},{"s":"Sensor 10","f":0.77,"v":-4.8},{"s":"Sensor 10","f":0.83,"v":-4.35},{"s":"Sensor 10","f":0.89,"v":-2.8},{"s":"Sensor 10","f":0.95,"v":-1.4},{"s":"Sensor 10","f":1,"v":-2},{"s":"Sensor 10","f":1.05,"v":-2.9},{"s":"Sensor 10","f":1.09,"v":-5.5},{"s":"Sensor 10","f":1.13,"v":-9.5},{"s":"Sensor 10","f":1.17,"v":-12},{"s":"Sensor 10","f":1.2,"v":-13.9},{"s":"Sensor 10","f":1.23,"v":-10},{"s":"Sensor 10","f":1.27,"v":-5},{"s":"Sensor 10","f":1.33,"v":-1.8},{"s":"Sensor 10","f":1.4,"v":-0.9},{"s":"Sensor 10","f":1.48,"v":0.3},{"s":"Sensor 10","f":1.55,"v":1},{"s":"Sensor 10","f":1.62,"v":1.3},{"s":"Sensor 10","f":1.67,"v":2.4},{"s":"Sensor 10","f":1.7,"v":1},{"s":"Sensor 10","f":1.73,"v":-3},{"s":"Sensor 10","f":1.77,"v":-9},{"s":"Sensor 10","f":1.8,"v":-10.2},{"s":"Sensor 10","f":1.84,"v":-8},{"s":"Sensor 10","f":1.88,"v":-5.2},{"s":"Sensor 10","f":1.92,"v":-5.8},{"s":"Sensor 10","f":1.97,"v":-7.3},{"s":"Sensor 10","f":2.02,"v":-5.8},{"s":"Sensor 10","f":2.08,"v":-3.5},{"s":"Sensor 10","f":2.15,"v":-1.8},{"s":"Sensor 10","f":2.22,"v":-1.3},{"s":"Sensor 10","f":2.3,"v":-1.2},{"s":"Sensor 10","f":2.4,"v":-2.2},{"s":"Sensor 10","f":2.5,"v":-2.9},{"s":"Sensor 10","f":2.55,"v":-3.4},{"s":"Sensor 10","f":2.62,"v":-3.6},{"s":"Sensor 10","f":2.66,"v":-4.8},{"s":"Sensor 10","f":2.71,"v":-7.8},{"s":"Sensor 10","f":2.77,"v":-10.8},{"s":"Sensor 10","f":2.83,"v":-7.8},{"s":"Sensor 10","f":2.88,"v":-4.1},{"s":"Sensor 10","f":2.97,"v":-2},{"s":"Sensor 10","f":3.06,"v":-1.5},{"s":"Sensor 10","f":3.15,"v":-1.5},{"s":"Sensor 10","f":3.24,"v":-2},{"s":"Sensor 10","f":3.32,"v":-2.6},{"s":"Sensor 10","f":3.45,"v":-2.2},{"s":"Sensor 10","f":3.59,"v":-2},{"s":"Sensor 10","f":3.74,"v":-2},{"s":"Sensor 10","f":3.85,"v":-2},{"s":"Sensor 10","f":4,"v":-1.55},{"s":"Sensor 10","f":4.11,"v":-1.7},{"s":"Sensor 10","f":4.18,"v":-2.7},{"s":"Sensor 10","f":4.27,"v":-3.7},{"s":"Sensor 10","f":4.39,"v":-4.6},{"s":"Sensor 10","f":4.51,"v":-4.1},{"s":"Sensor 10","f":4.72,"v":-3.4},{"s":"Sensor 10","f":4.81,"v":-3.7},{"s":"Sensor 10","f":4.92,"v":-4.6},{"s":"Sensor 10","f":5.07,"v":-5.6},{"s":"Sensor 10","f":5.22,"v":-6.3},{"s":"Sensor 10","f":5.37,"v":-6.4},{"s":"Sensor 10","f":5.49,"v":-6.7},{"s":"Sensor 10","f":5.61,"v":-7.5},{"s":"Sensor 10","f":5.7,"v":-8.4},{"s":"Sensor 10","f":5.78,"v":-10.8},{"s":"Sensor 10","f":5.88,"v":-13.8},{"s":"Sensor 10","f":5.95,"v":-16.5},{"s":"Sensor 10","f":6,"v":-18.7},

{"s":"Sensor 11","f":0,"v":-11.5},{"s":"Sensor 11","f":0.03,"v":-5},{"s":"Sensor 11","f":0.07,"v":-1.2},{"s":"Sensor 11","f":0.12,"v":-0.4},{"s":"Sensor 11","f":0.18,"v":-0.35},{"s":"Sensor 11","f":0.24,"v":-0.65},{"s":"Sensor 11","f":0.3,"v":-0.35},{"s":"Sensor 11","f":0.36,"v":-0.8},{"s":"Sensor 11","f":0.42,"v":-1.1},{"s":"Sensor 11","f":0.48,"v":-1.2},{"s":"Sensor 11","f":0.55,"v":-2.2},{"s":"Sensor 11","f":0.62,"v":-3.4},{"s":"Sensor 11","f":0.67,"v":-4.6},{"s":"Sensor 11","f":0.71,"v":-5},{"s":"Sensor 11","f":0.76,"v":-4.3},{"s":"Sensor 11","f":0.82,"v":-3.2},{"s":"Sensor 11","f":0.88,"v":-2.4},{"s":"Sensor 11","f":0.95,"v":-1.5},{"s":"Sensor 11","f":1,"v":-2.1},{"s":"Sensor 11","f":1.05,"v":-3.1},{"s":"Sensor 11","f":1.09,"v":-6.2},{"s":"Sensor 11","f":1.13,"v":-11},{"s":"Sensor 11","f":1.17,"v":-15},{"s":"Sensor 11","f":1.21,"v":-11},{"s":"Sensor 11","f":1.25,"v":-5},{"s":"Sensor 11","f":1.31,"v":-1.5},{"s":"Sensor 11","f":1.4,"v":0},{"s":"Sensor 11","f":1.5,"v":0.9},{"s":"Sensor 11","f":1.58,"v":1.6},{"s":"Sensor 11","f":1.63,"v":2.2},{"s":"Sensor 11","f":1.67,"v":3},{"s":"Sensor 11","f":1.7,"v":1.5},{"s":"Sensor 11","f":1.74,"v":-4},{"s":"Sensor 11","f":1.78,"v":-9.5},{"s":"Sensor 11","f":1.81,"v":-10.5},{"s":"Sensor 11","f":1.85,"v":-8.2},{"s":"Sensor 11","f":1.89,"v":-5.6},{"s":"Sensor 11","f":1.93,"v":-6.1},{"s":"Sensor 11","f":1.98,"v":-6.9},{"s":"Sensor 11","f":2.03,"v":-4.7},{"s":"Sensor 11","f":2.09,"v":-2.4},{"s":"Sensor 11","f":2.16,"v":-1.2},{"s":"Sensor 11","f":2.23,"v":-1},{"s":"Sensor 11","f":2.3,"v":-0.8},{"s":"Sensor 11","f":2.4,"v":-1},{"s":"Sensor 11","f":2.5,"v":-1.3},{"s":"Sensor 11","f":2.6,"v":-1.6},{"s":"Sensor 11","f":2.7,"v":-1.9},{"s":"Sensor 11","f":2.8,"v":-1.2},{"s":"Sensor 11","f":2.9,"v":-0.5},{"s":"Sensor 11","f":3,"v":-0.1},{"s":"Sensor 11","f":3.15,"v":0},{"s":"Sensor 11","f":3.3,"v":0.3},{"s":"Sensor 11","f":3.45,"v":0.6},{"s":"Sensor 11","f":3.55,"v":0.4},{"s":"Sensor 11","f":3.65,"v":-0.1},{"s":"Sensor 11","f":3.77,"v":-1.8},{"s":"Sensor 11","f":3.86,"v":-5},{"s":"Sensor 11","f":3.95,"v":-5.4},{"s":"Sensor 11","f":4.05,"v":-5.4},{"s":"Sensor 11","f":4.15,"v":-4.9},{"s":"Sensor 11","f":4.27,"v":-4.5},{"s":"Sensor 11","f":4.39,"v":-4},{"s":"Sensor 11","f":4.5,"v":-5.1},{"s":"Sensor 11","f":4.62,"v":-7.2},{"s":"Sensor 11","f":4.72,"v":-8},{"s":"Sensor 11","f":4.8,"v":-7.7},{"s":"Sensor 11","f":4.9,"v":-6.9},{"s":"Sensor 11","f":4.98,"v":-7},{"s":"Sensor 11","f":5.06,"v":-7.8},{"s":"Sensor 11","f":5.2,"v":-7.6},{"s":"Sensor 11","f":5.35,"v":-7.4},{"s":"Sensor 11","f":5.5,"v":-7.3},{"s":"Sensor 11","f":5.65,"v":-7.6},{"s":"Sensor 11","f":5.8,"v":-7.8},{"s":"Sensor 11","f":6,"v":-8},

{"s":"Sensor 12","f":0,"v":-11},{"s":"Sensor 12","f":0.03,"v":-4.8},{"s":"Sensor 12","f":0.07,"v":-1.1},{"s":"Sensor 12","f":0.12,"v":-0.4},{"s":"Sensor 12","f":0.18,"v":-0.35},{"s":"Sensor 12","f":0.24,"v":-0.6},{"s":"Sensor 12","f":0.3,"v":-0.35},{"s":"Sensor 12","f":0.36,"v":-0.7},{"s":"Sensor 12","f":0.42,"v":-1},{"s":"Sensor 12","f":0.48,"v":-1.2},{"s":"Sensor 12","f":0.55,"v":-2.2},{"s":"Sensor 12","f":0.62,"v":-3.3},{"s":"Sensor 12","f":0.67,"v":-4.5},{"s":"Sensor 12","f":0.71,"v":-5},{"s":"Sensor 12","f":0.76,"v":-4.2},{"s":"Sensor 12","f":0.82,"v":-3},{"s":"Sensor 12","f":0.88,"v":-2.2},{"s":"Sensor 12","f":0.95,"v":-1.5},{"s":"Sensor 12","f":1,"v":-2},{"s":"Sensor 12","f":1.05,"v":-3},{"s":"Sensor 12","f":1.09,"v":-6},{"s":"Sensor 12","f":1.12,"v":-10.5},{"s":"Sensor 12","f":1.16,"v":-15.1},{"s":"Sensor 12","f":1.2,"v":-11},{"s":"Sensor 12","f":1.24,"v":-5},{"s":"Sensor 12","f":1.3,"v":-1.5},{"s":"Sensor 12","f":1.38,"v":0},{"s":"Sensor 12","f":1.48,"v":1},{"s":"Sensor 12","f":1.56,"v":1.8},{"s":"Sensor 12","f":1.62,"v":2.5},{"s":"Sensor 12","f":1.66,"v":3.5},{"s":"Sensor 12","f":1.69,"v":2.5},{"s":"Sensor 12","f":1.72,"v":-2},{"s":"Sensor 12","f":1.76,"v":-8},{"s":"Sensor 12","f":1.8,"v":-10.5},{"s":"Sensor 12","f":1.84,"v":-8.5},{"s":"Sensor 12","f":1.88,"v":-5.5},{"s":"Sensor 12","f":1.92,"v":-6},{"s":"Sensor 12","f":1.97,"v":-7},{"s":"Sensor 12","f":2.02,"v":-4.8},{"s":"Sensor 12","f":2.08,"v":-2.5},{"s":"Sensor 12","f":2.15,"v":-1.2},{"s":"Sensor 12","f":2.22,"v":-1},{"s":"Sensor 12","f":2.3,"v":-0.6},{"s":"Sensor 12","f":2.4,"v":-0.9},{"s":"Sensor 12","f":2.5,"v":-1.1},{"s":"Sensor 12","f":2.55,"v":-1.1},{"s":"Sensor 12","f":2.6,"v":-1.3},{"s":"Sensor 12","f":2.68,"v":-1.8},{"s":"Sensor 12","f":2.77,"v":-1.1},{"s":"Sensor 12","f":2.86,"v":-0.6},{"s":"Sensor 12","f":2.95,"v":0},{"s":"Sensor 12","f":3.07,"v":0.2},{"s":"Sensor 12","f":3.21,"v":0.2},{"s":"Sensor 12","f":3.36,"v":0.55},{"s":"Sensor 12","f":3.45,"v":0.85},{"s":"Sensor 12","f":3.53,"v":0.6},{"s":"Sensor 12","f":3.65,"v":0.1},{"s":"Sensor 12","f":3.77,"v":-1.5},{"s":"Sensor 12","f":3.85,"v":-5},{"s":"Sensor 12","f":3.94,"v":-5.6},{"s":"Sensor 12","f":4.03,"v":-5.6},{"s":"Sensor 12","f":4.15,"v":-5},{"s":"Sensor 12","f":4.27,"v":-4.4},{"s":"Sensor 12","f":4.39,"v":-3.8},{"s":"Sensor 12","f":4.48,"v":-4.9},{"s":"Sensor 12","f":4.6,"v":-7.2},{"s":"Sensor 12","f":4.7,"v":-8.2},{"s":"Sensor 12","f":4.78,"v":-7.9},{"s":"Sensor 12","f":4.87,"v":-6.8},{"s":"Sensor 12","f":4.96,"v":-6.8},{"s":"Sensor 12","f":5.04,"v":-7.9},{"s":"Sensor 12","f":5.16,"v":-7.7},{"s":"Sensor 12","f":5.31,"v":-7.5},{"s":"Sensor 12","f":5.46,"v":-7.2},{"s":"Sensor 12","f":5.58,"v":-7.5},{"s":"Sensor 12","f":5.73,"v":-7.7},{"s":"Sensor 12","f":5.85,"v":-7.7},{"s":"Sensor 12","f":6,"v":-7.9},

{"s":"Sensor 13","f":0,"v":-12},{"s":"Sensor 13","f":0.03,"v":-5},{"s":"Sensor 13","f":0.07,"v":-1.2},{"s":"Sensor 13","f":0.12,"v":-0.4},{"s":"Sensor 13","f":0.18,"v":-0.35},{"s":"Sensor 13","f":0.24,"v":-0.7},{"s":"Sensor 13","f":0.3,"v":-0.4},{"s":"Sensor 13","f":0.36,"v":-0.9},{"s":"Sensor 13","f":0.42,"v":-1.4},{"s":"Sensor 13","f":0.46,"v":-2.5},{"s":"Sensor 13","f":0.54,"v":-2.9},{"s":"Sensor 13","f":0.58,"v":-4},{"s":"Sensor 13","f":0.66,"v":-4.2},{"s":"Sensor 13","f":0.71,"v":-3.4},{"s":"Sensor 13","f":0.8,"v":-1.8},{"s":"Sensor 13","f":0.86,"v":-1.55},{"s":"Sensor 13","f":0.92,"v":-1.7},{"s":"Sensor 13","f":0.96,"v":-1.3},{"s":"Sensor 13","f":1.03,"v":-2.5},{"s":"Sensor 13","f":1.08,"v":-3.7},{"s":"Sensor 13","f":1.11,"v":-8},{"s":"Sensor 13","f":1.14,"v":-13},{"s":"Sensor 13","f":1.16,"v":-14},{"s":"Sensor 13","f":1.19,"v":-11},{"s":"Sensor 13","f":1.23,"v":-5},{"s":"Sensor 13","f":1.3,"v":-1.5},{"s":"Sensor 13","f":1.4,"v":0.2},{"s":"Sensor 13","f":1.5,"v":1},{"s":"Sensor 13","f":1.58,"v":1.2},{"s":"Sensor 13","f":1.64,"v":1.3},{"s":"Sensor 13","f":1.68,"v":2},{"s":"Sensor 13","f":1.72,"v":-2},{"s":"Sensor 13","f":1.76,"v":-8},{"s":"Sensor 13","f":1.8,"v":-10.8},{"s":"Sensor 13","f":1.84,"v":-8.5},{"s":"Sensor 13","f":1.88,"v":-6},{"s":"Sensor 13","f":1.92,"v":-6.2},{"s":"Sensor 13","f":1.97,"v":-7},{"s":"Sensor 13","f":2.02,"v":-5},{"s":"Sensor 13","f":2.08,"v":-2.8},{"s":"Sensor 13","f":2.15,"v":-1.3},{"s":"Sensor 13","f":2.22,"v":-1.2},{"s":"Sensor 13","f":2.3,"v":-1.6},{"s":"Sensor 13","f":2.38,"v":-2.7},{"s":"Sensor 13","f":2.45,"v":-2.4},{"s":"Sensor 13","f":2.5,"v":-3.6},{"s":"Sensor 13","f":2.54,"v":-4.8},{"s":"Sensor 13","f":2.57,"v":-5.3},{"s":"Sensor 13","f":2.6,"v":-4.5},{"s":"Sensor 13","f":2.64,"v":-2.6},{"s":"Sensor 13","f":2.7,"v":-1},{"s":"Sensor 13","f":2.78,"v":-0.2},{"s":"Sensor 13","f":2.9,"v":0.1},{"s":"Sensor 13","f":3.03,"v":0.2},{"s":"Sensor 13","f":3.15,"v":0},{"s":"Sensor 13","f":3.3,"v":-0.6},{"s":"Sensor 13","f":3.45,"v":-0.9},{"s":"Sensor 13","f":3.6,"v":-1.1},{"s":"Sensor 13","f":3.72,"v":-1.4},{"s":"Sensor 13","f":3.85,"v":-2.2},{"s":"Sensor 13","f":3.95,"v":-3},{"s":"Sensor 13","f":4.05,"v":-3.5},{"s":"Sensor 13","f":4.15,"v":-3.6},{"s":"Sensor 13","f":4.25,"v":-3.3},{"s":"Sensor 13","f":4.35,"v":-3.4},{"s":"Sensor 13","f":4.45,"v":-4.1},{"s":"Sensor 13","f":4.58,"v":-5.6},{"s":"Sensor 13","f":4.67,"v":-7.8},{"s":"Sensor 13","f":4.73,"v":-7.9},{"s":"Sensor 13","f":4.8,"v":-7.2},{"s":"Sensor 13","f":4.9,"v":-6.4},{"s":"Sensor 13","f":4.96,"v":-6},{"s":"Sensor 13","f":5.04,"v":-6.5},{"s":"Sensor 13","f":5.13,"v":-10},{"s":"Sensor 13","f":5.22,"v":-15.4},{"s":"Sensor 13","f":5.28,"v":-17.2},{"s":"Sensor 13","f":5.34,"v":-17},{"s":"Sensor 13","f":5.4,"v":-17.8},{"s":"Sensor 13","f":5.46,"v":-17.3},{"s":"Sensor 13","f":5.5,"v":-18.8},{"s":"Sensor 13","f":5.54,"v":-20.6},{"s":"Sensor 13","f":5.58,"v":-18.6},{"s":"Sensor 13","f":5.61,"v":-15.3},{"s":"Sensor 13","f":5.7,"v":-11.7},{"s":"Sensor 13","f":5.82,"v":-10.5},{"s":"Sensor 13","f":5.93,"v":-10},{"s":"Sensor 13","f":6,"v":-8.8}
]},
 "mark": {"type": "line", "interpolate": "monotone", "strokeWidth": 1.7, "clip": true},
 "encoding": {
  "color": {"field": "s", "type": "nominal",
   "scale": {"domain": ["Sensor 1","Sensor 2","Sensor 3","Sensor 4","Sensor 5","Sensor 6","Sensor 7","Sensor 8","Sensor 9","Sensor 10","Sensor 11","Sensor 12","Sensor 13"],
    "range": ["#70C82C","#0B7D0B","#4F9090","#FFA500","#F02A1A","#FF66B8","#1EBBEE","#0505EE","#6D94F0","#7A0A0A","#9050DD","#DD66EE","#3CB371"]},
   "legend": {"orient": "none", "legendX": 697, "legendY": 0, "title": null, "symbolType": "M-2,0H2", "symbolSize": 400, "symbolStrokeWidth": 2,
    "labelFont": "Liberation Sans", "labelFontSize": 17, "labelColor": "black", "rowPadding": 3, "padding": 0, "labelOffset": 16}}
 }},
{"data": {"values": [{"f": 1.77, "v": 10, "t": "1.77 GHz"}]},
 "mark": {"type": "text", "baseline": "bottom", "dy": -5, "dx": -11, "font": "Liberation Sans", "fontSize": 16, "color": "black"},
 "encoding": {"text": {"field": "t"}}},
{"data": {"values": [{"f": 2.5, "v": 10, "t": "2.5 GHz"}]},
 "mark": {"type": "text", "baseline": "bottom", "dy": -5, "dx": 11, "font": "Liberation Sans", "fontSize": 16, "color": "black"},
 "encoding": {"text": {"field": "t"}}},
{"data": {"values": [{"f": 1.115, "v": 6.6, "t": "Zone A"}, {"f": 4.47, "v": 6.6, "t": "Zone B"}]},
 "mark": {"type": "text", "baseline": "middle", "font": "Liberation Serif", "fontSize": 23, "color": "black"},
 "encoding": {"text": {"field": "t"}}}
]
}
